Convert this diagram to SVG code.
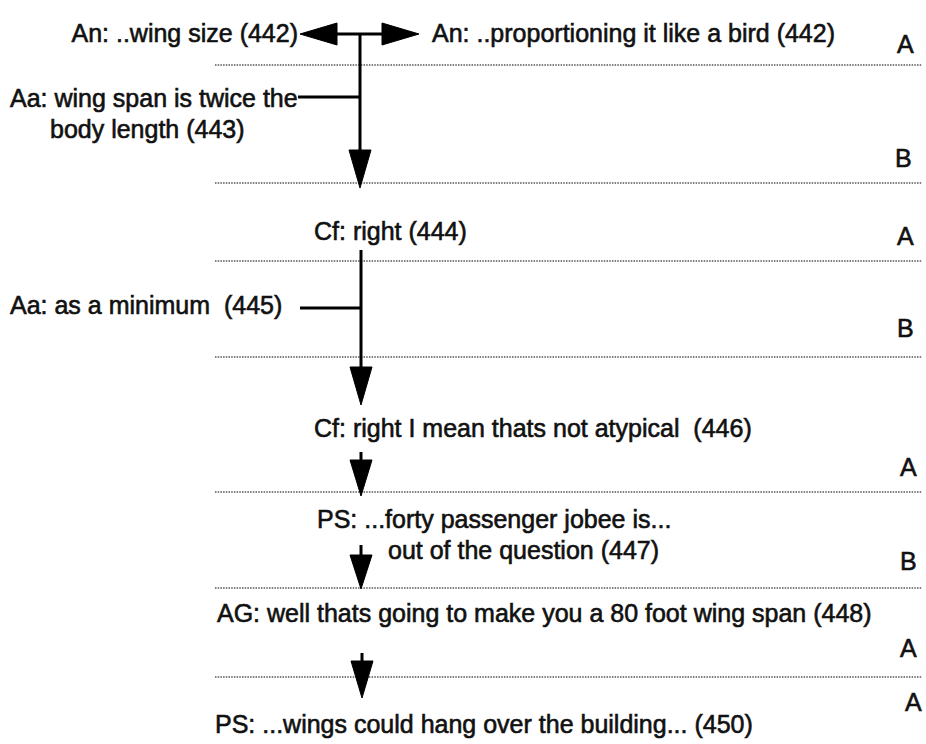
<svg xmlns="http://www.w3.org/2000/svg" width="926" height="744" viewBox="0 0 926 744">
<style>
text{font-family:"Liberation Sans",Arial,sans-serif;font-size:25px;fill:#111;stroke:#111;stroke-width:0.6;white-space:pre}
.dot{stroke:#555;stroke-width:1.3;stroke-dasharray:1.5 1.2;fill:none}
.ln{stroke:#000;stroke-width:3;fill:none}
.ah{fill:#000;stroke:#000;stroke-width:1}
</style>
<rect width="926" height="744" fill="#fff"/>
<g id="rules">
<line class="dot" x1="215" y1="65" x2="922" y2="65"/>
<line class="dot" x1="215" y1="183" x2="922" y2="183"/>
<line class="dot" x1="215" y1="261" x2="922" y2="261"/>
<line class="dot" x1="215" y1="357" x2="922" y2="357"/>
<line class="dot" x1="215" y1="492" x2="922" y2="492"/>
<line class="dot" x1="215" y1="588" x2="922" y2="588"/>
<line class="dot" x1="215" y1="677" x2="922" y2="677"/>
</g>
<g id="labels">
<text x="897" y="53">A</text>
<text x="895" y="167">B</text>
<text x="897" y="245">A</text>
<text x="897" y="337">B</text>
<text x="900" y="476">A</text>
<text x="900" y="570">B</text>
<text x="900" y="657">A</text>
<text x="905" y="711">A</text>
</g>
<g id="n442a"><text x="298" y="42" text-anchor="end">An: ..wing size (442)</text></g>
<g id="n442b"><text x="432" y="42">An: ..proportioning it like a bird (442)</text></g>
<g id="n443"><text x="10" y="107">Aa: wing span is twice the</text><text x="50" y="138">body length (443)</text></g>
<g id="n444"><text x="314" y="240">Cf: right (444)</text></g>
<g id="n445"><text x="10" y="314" xml:space="preserve">Aa: as a minimum  (445)</text></g>
<g id="n446"><text x="314" y="437" xml:space="preserve">Cf: right I mean thats not atypical  (446)</text></g>
<g id="n447"><text x="317" y="528">PS: ...forty passenger jobee is...</text><text x="388" y="559">out of the question (447)</text></g>
<g id="n448"><text x="217" y="622">AG: well thats going to make you a 80 foot wing span (448)</text></g>
<g id="n450"><text x="215" y="733">PS: ...wings could hang over the building... (450)</text></g>
<g id="connectors">
<line class="ln" x1="336" y1="34" x2="383" y2="34"/>
<polygon class="ah" points="300,34 337,23 337,45"/>
<polygon class="ah" points="419,34 382,23 382,45"/>
<line class="ln" x1="360" y1="34" x2="360" y2="152"/>
<line class="ln" x1="298" y1="97" x2="360" y2="97"/>
<polygon class="ah" points="349,150 371,150 360,188"/>
<line class="ln" x1="361" y1="250" x2="361" y2="369"/>
<line class="ln" x1="300" y1="308" x2="361" y2="308"/>
<polygon class="ah" points="350,367 372,367 361,405"/>
<line class="ln" x1="361" y1="452" x2="361" y2="462"/>
<polygon class="ah" points="350,460 372,460 361,496"/>
<line class="ln" x1="361" y1="545" x2="361" y2="557"/>
<polygon class="ah" points="350,555 372,555 361,589"/>
<line class="ln" x1="362" y1="653" x2="362" y2="663"/>
<polygon class="ah" points="351,661 373,661 362,698"/>
</g>
</svg>
